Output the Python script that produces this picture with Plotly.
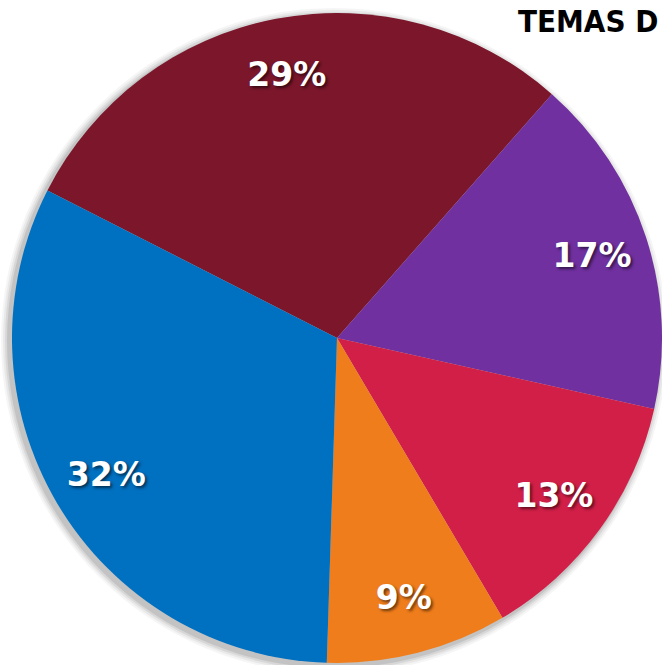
import plotly.graph_objects as go

# Data
categories = ["Tema 1", "Tema 2", "Tema 3", "Tema 4", "Tema 5"]
values = [29, 17, 13, 9, 32]
colors = ["#7B162B", "#7030A0", "#D21F47", "#F07D1B", "#0070C0"]
title_text = "TEMAS D"

W, H = 662, 665
cx, cy, r = 337, 338, 325
dom_x = [max(0.0, (cx - r) / W), min(1.0, (cx + r) / W)]
dom_y = [max(0.0, 1 - (cy + r) / H), min(1.0, 1 - (cy - r) / H)]

fig = go.Figure()

# base pie (slices)
fig.add_trace(go.Pie(
    labels=categories, values=values, sort=False, direction="clockwise",
    rotation=-63, marker=dict(colors=colors, line=dict(width=0)),
    textinfo="none", hoverinfo="label+percent", showlegend=False,
    domain=dict(x=dom_x, y=dom_y),
))

# label ring (transparent) to place percentage labels near the rim
fig.add_trace(go.Pie(
    labels=categories, values=values, sort=False, direction="clockwise",
    rotation=-63, hole=0.65,
    marker=dict(colors=["rgba(0,0,0,0)"] * len(values), line=dict(width=0)),
    texttemplate="%{value}%", textposition="inside",
    insidetextorientation="horizontal",
    textfont=dict(family="DejaVu Sans", size=33, color="white", weight="bold",
                  shadow="2px 2px 3px rgba(0,0,0,0.55)"),
    hoverinfo="skip", showlegend=False,
    domain=dict(x=dom_x, y=dom_y),
))

# soft drop shadow behind pie
shapes = []
for grow, op in [(8, 0.04), (6, 0.05), (4, 0.07), (2, 0.09)]:
    rr = r + grow
    ox, oy = -3, 3
    shapes.append(dict(
        type="circle", xref="paper", yref="paper", layer="below",
        x0=(cx + ox - rr) / W, x1=(cx + ox + rr) / W,
        y0=1 - (cy + oy + rr) / H, y1=1 - (cy + oy - rr) / H,
        fillcolor=f"rgba(0,0,0,{op})", line=dict(width=0),
    ))

fig.update_layout(
    width=W, height=H,
    margin=dict(l=0, r=0, t=0, b=0),
    paper_bgcolor="white", plot_bgcolor="white",
    shapes=shapes,
    annotations=[dict(
        text=title_text, x=516 / W, y=1 - 21 / H,
        xref="paper", yref="paper",
        xanchor="left", yanchor="middle", showarrow=False,
        font=dict(family="DejaVu Sans Condensed", size=31, color="black", weight="bold"),
    )],
)

fig.write_html(
    "out.html",
    config={"displayModeBar": False},
    post_script="document.body.style.margin='0';"
                "document.documentElement.style.overflow='hidden';"
                "document.body.style.overflow='hidden';",
)
